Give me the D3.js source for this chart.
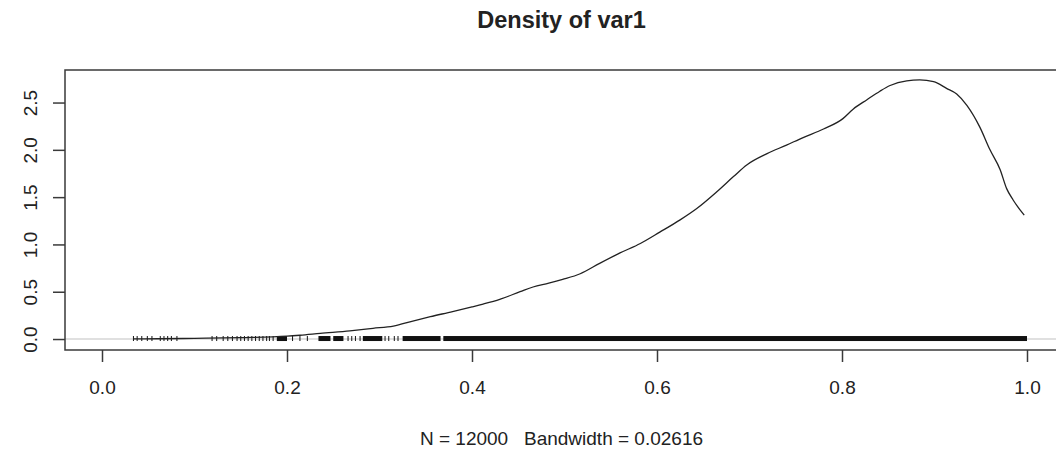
<!DOCTYPE html>
<html>
<head>
<meta charset="utf-8">
<script src="https://cdn.jsdelivr.net/npm/d3@7"></script>
<style>
  body { margin: 0; background: #fff; }
  svg { display: block; }
  text { font-family: "Liberation Sans", Arial, sans-serif; fill: #222; }
</style>
</head>
<body>
<svg id="chart" width="1056" height="449"></svg>
<script>
// ---- data ----
const title = "Density of var1";
const subtitle = "N = 12000   Bandwidth = 0.02616";
const xTicks = [0.0, 0.2, 0.4, 0.6, 0.8, 1.0];
const yTicks = [0.0, 0.5, 1.0, 1.5, 2.0, 2.5];
const densX = [0.034, 0.06, 0.10, 0.15, 0.20, 0.214, 0.236, 0.268, 0.293, 0.315, 0.336, 0.355, 0.379, 0.40, 0.412, 0.430, 0.452, 0.466, 0.483, 0.498, 0.517, 0.538, 0.560, 0.582, 0.603, 0.625, 0.643, 0.665, 0.683, 0.697, 0.719, 0.740, 0.758, 0.780, 0.801, 0.812, 0.827, 0.841, 0.852, 0.870, 0.884, 0.899, 0.913, 0.924, 0.935, 0.949, 0.960, 0.971, 0.978, 0.985, 0.997];
const densY = [0.001, 0.003, 0.007, 0.015, 0.03, 0.04, 0.06, 0.087, 0.113, 0.137, 0.19, 0.236, 0.29, 0.34, 0.37, 0.42, 0.50, 0.55, 0.59, 0.63, 0.69, 0.80, 0.91, 1.01, 1.13, 1.26, 1.38, 1.56, 1.72, 1.84, 1.96, 2.05, 2.13, 2.22, 2.33, 2.43, 2.53, 2.62, 2.68, 2.73, 2.74, 2.72, 2.65, 2.59, 2.47, 2.24, 2.00, 1.79, 1.59, 1.47, 1.31];
const rugSparse = [0.034, 0.038, 0.043, 0.049, 0.054, 0.063, 0.067, 0.071, 0.075, 0.081, 0.119, 0.124, 0.131, 0.136, 0.141, 0.146, 0.150, 0.154, 0.158, 0.162, 0.166, 0.170, 0.174, 0.178, 0.181, 0.185, 0.206, 0.214, 0.222, 0.266, 0.270, 0.274, 0.279, 0.306, 0.310, 0.316, 0.320];
const rugDenseStart = [0.189, 0.234, 0.250, 0.282, 0.325, 0.369];
const rugDenseEnd   = [0.200, 0.247, 0.261, 0.303, 0.366, 1.000];

// ---- layout ----
const svg = d3.select("#chart");
const x = d3.scaleLinear().domain([-0.04, 1.04]).range([65, 1064]);
const y = d3.scaleLinear().domain([-0.116, 2.844]).range([350, 70]);
const fontTick = 19;

// zero line
svg.append("line")
  .attr("x1", x.range()[0]).attr("x2", x.range()[1])
  .attr("y1", y(0)).attr("y2", y(0))
  .attr("stroke", "#d6d6d6").attr("stroke-width", 1.5);

// rug
const rugTop = y(0) - 3, rugBot = y(0) + 2;
svg.append("g").selectAll("line").data(rugSparse).join("line")
  .attr("x1", d => x(d)).attr("x2", d => x(d))
  .attr("y1", rugTop).attr("y2", rugBot)
  .attr("stroke", "#111").attr("stroke-width", 1);
svg.append("g").selectAll("rect").data(rugDenseStart.map((s, i) => [s, rugDenseEnd[i]])).join("rect")
  .attr("x", d => x(d[0])).attr("width", d => x(d[1]) - x(d[0]))
  .attr("y", rugTop).attr("height", rugBot - rugTop)
  .attr("fill", "#111");

// density curve
const pts = densX.map((v, i) => [v, densY[i]]);
svg.append("path")
  .datum(pts)
  .attr("d", d3.line().x(d => x(d[0])).y(d => y(d[1])).curve(d3.curveMonotoneX))
  .attr("fill", "none").attr("stroke", "#222").attr("stroke-width", 1.3);

// box
svg.append("rect")
  .attr("x", x.range()[0]).attr("y", y.range()[1])
  .attr("width", x.range()[1] - x.range()[0])
  .attr("height", y.range()[0] - y.range()[1])
  .attr("fill", "none").attr("stroke", "#3a3a3a").attr("stroke-width", 1.5);

// x axis
const xAxis = d3.axisBottom(x).tickValues(xTicks).tickFormat(d3.format(".1f")).tickSize(12).tickPadding(20);
const gx = svg.append("g").attr("transform", `translate(0,${y.range()[0]})`).call(xAxis);
gx.select(".domain").remove();
gx.selectAll(".tick line").attr("stroke", "#3a3a3a").attr("stroke-width", 1.5);
gx.selectAll(".tick text").attr("font-size", fontTick).attr("fill", "#222")
  .attr("font-family", "Liberation Sans, Arial, sans-serif").attr("dy", null).attr("y", 44);

// y axis
const yAxis = d3.axisLeft(y).tickValues(yTicks).tickFormat(d3.format(".1f")).tickSize(12);
const gy = svg.append("g").attr("transform", `translate(${x.range()[0]},0)`).call(yAxis);
gy.select(".domain").remove();
gy.selectAll(".tick line").attr("stroke", "#3a3a3a").attr("stroke-width", 1.5);
gy.selectAll(".tick text").remove();
gy.selectAll(".tick").append("text")
  .attr("transform", "translate(-28,0) rotate(-90)")
  .attr("text-anchor", "middle")
  .attr("font-size", fontTick).attr("fill", "#222")
  .attr("font-family", "Liberation Sans, Arial, sans-serif")
  .text(d => d3.format(".1f")(d));

// title & subtitle
const cx = (x.range()[0] + x.range()[1]) / 2 - 3;
svg.append("text").attr("x", cx).attr("y", 28)
  .attr("text-anchor", "middle").attr("font-size", 23.5).attr("font-weight", "bold")
  .attr("fill", "#111").text(title);
svg.append("text").attr("x", cx).attr("y", 445)
  .attr("text-anchor", "middle").attr("font-size", fontTick)
  .style("white-space", "pre").text(subtitle);
</script>
</body>
</html>
